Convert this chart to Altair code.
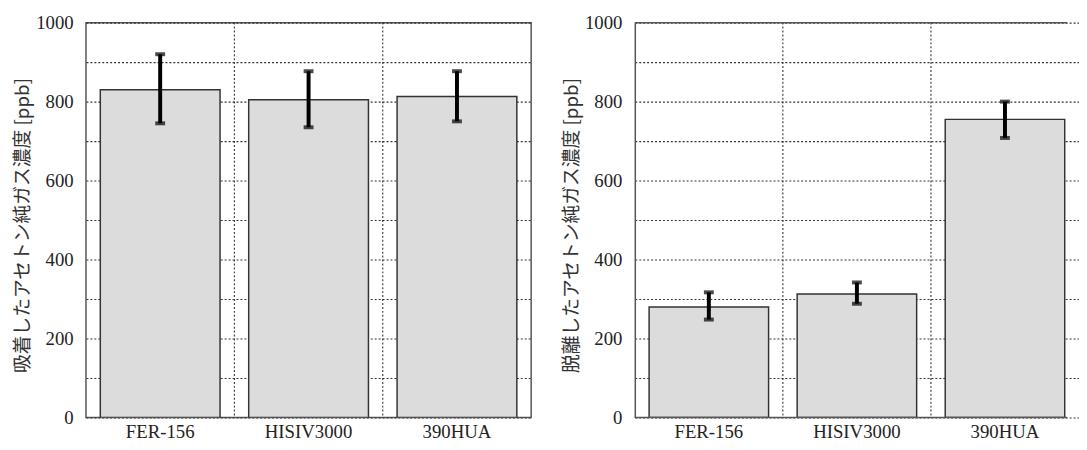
import altair as alt
import pandas as pd

categories = ["FER-156", "HISIV3000", "390HUA"]
adsorbed_mean = [830, 805, 813]
adsorbed_low = [745, 735, 750]
adsorbed_high = [920, 877, 877]
desorbed_mean = [280, 313, 755]
desorbed_low = [248, 288, 708]
desorbed_high = [317, 342, 800]
y_ticks = [0, 100, 200, 300, 400, 500, 600, 700, 800, 900, 1000]
separators = categories[1:]

title_left = "吸着したアセトン純ガス濃度 [ppb]"
title_right = "脱離したアセトン純ガス濃度 [ppb]"

FRAME = "#555"
PLOT_H = 400


def panel(mean, low, high, title, width, band_range, open_right):
    df = pd.DataFrame({"cat": categories, "mean": mean, "low": low, "high": high})
    sep = pd.DataFrame({"cat": separators})
    edges = pd.DataFrame({"v": [min(y_ticks), max(y_ticks)]})
    xscale = alt.Scale(domain=categories, paddingInner=0, paddingOuter=0,
                       range=[0, band_range])
    yscale = alt.Scale(domain=[0, 1000], nice=False)
    x_axis = alt.Axis(
        title=None, ticks=False, domain=False, labelAngle=0, grid=False,
        labelFont="Liberation Serif", labelFontSize=19, labelColor="#222",
        labelPadding=5,
    )
    y_axis = alt.Axis(
        title=title, values=y_ticks, format="d",
        labelExpr="datum.value % 200 == 0 ? datum.label : ''",
        grid=True, gridDash=[2, 2], gridColor="#333", gridWidth=1.1,
        ticks=False, domain=open_right, domainColor=FRAME, domainWidth=1.5,
        labelFont="Liberation Serif", labelFontSize=19, labelColor="#222",
        labelPadding=13,
        titleFont="Noto Sans CJK JP", titleFontSize=19, titleFontWeight="normal",
        titleColor="#333", titleX=-64, titleY=205, titleBaseline="middle",
        titleAngle=270,
    )
    xenc = alt.X("cat:N", scale=xscale, axis=x_axis)
    bars = alt.Chart(df).mark_bar(
        width=alt.RelativeBandSize(0.807), color="#dcdcdc", stroke="#333",
        strokeWidth=1.5, clip=True,
    ).encode(
        x=xenc,
        y=alt.Y("mean:Q", scale=yscale, axis=y_axis),
    )
    seps = alt.Chart(sep).mark_rule(
        strokeDash=[2, 2], color="#333", strokeWidth=1.1
    ).encode(
        x=alt.X("cat:N", scale=xscale, axis=x_axis, bandPosition=0),
    )
    err = alt.Chart(df).mark_rule(color="black", strokeWidth=4).encode(
        x=xenc,
        y=alt.Y("low:Q", scale=yscale, axis=y_axis),
        y2="high:Q",
    )
    caps = alt.Chart(df).transform_fold(["low", "high"]).mark_tick(
        color="black", thickness=4, size=10
    ).encode(
        x=xenc,
        y=alt.Y("value:Q", scale=yscale, axis=y_axis),
    )
    layers = [seps, bars, err, caps]
    if open_right:
        edge_lines = alt.Chart(edges).mark_rule(color=FRAME, strokeWidth=1.5).encode(
            y=alt.Y("v:Q", scale=yscale, axis=y_axis),
        )
        layers.append(edge_lines)
    ch = alt.layer(*layers).properties(width=width, height=PLOT_H)
    if open_right:
        ch = ch.properties(view=alt.ViewBackground(stroke=None))
    return ch


left = panel(adsorbed_mean, adsorbed_low, adsorbed_high, title_left, 451, 451, False)
right = panel(desorbed_mean, desorbed_low, desorbed_high, title_right, 438, 450, True)

chart = alt.hconcat(left, right, spacing=30).resolve_scale(
    x="independent", y="independent"
).configure_view(stroke=FRAME, strokeWidth=1.5).properties(
    background="white",
    padding={"left": 5, "top": 2, "right": 0, "bottom": -3},
)

chart.save("out.html", embed_options={"renderer": "svg", "actions": False})
